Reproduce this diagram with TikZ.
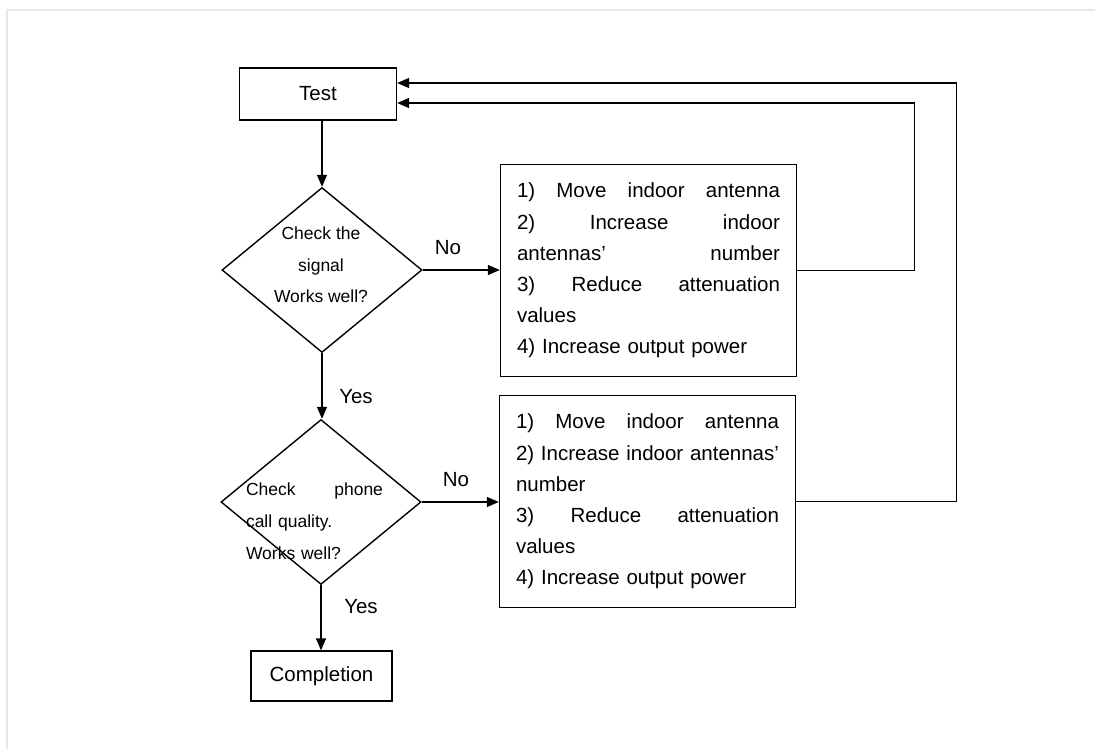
\documentclass[tikz,border=0pt]{standalone}
\usepackage{fontspec}
\setmainfont{Liberation Sans}
\usetikzlibrary{arrows.meta,shapes.geometric}
\newcommand{\fullline}[2][263pt]{\makebox[#1][s]{\spaceskip=0.28em plus 1fil\relax #2}}

\begin{document}
\begin{tikzpicture}[x=1pt,y=-1pt,
		flow/.style={line width=1.4pt, -{Triangle[length=12pt,width=10pt]}},
		stepbox/.style={draw, line width=1.4pt, inner sep=0pt, font=\fontsize{20.5}{24}\selectfont},
		decision/.style={draw, diamond, line width=1.4pt, inner sep=0pt, minimum width=200pt, minimum height=165pt},
		dtext/.style={inner sep=0pt, font=\fontsize{17.5}{31.5}\selectfont},
		actbox/.style={draw, line width=1.4pt, text width=263pt, inner xsep=16.5pt, inner ysep=0pt, minimum height=212pt, align=left, font=\fontsize{20.5}{31.2}\selectfont},
		answer/.style={inner sep=0pt, font=\fontsize{20.5}{24}\selectfont}]
	\useasboundingbox (0,0) rectangle (1095,749);
	\draw[black!9, line width=2pt] (7,749) -- (7,10) -- (1095,10);

	\node[stepbox, minimum width=157pt, minimum height=52pt] (test) at (318,94) {Test};
	\node[decision] (chk1) at (322,270) {};
	\node[dtext, align=center] (chk1txt) at (321,265) {Check the\\signal\\Works well?};
	\node[actbox] (act1) at (648.5,270.5) {\fullline{1) Move indoor antenna}\\
		\fullline{2) Increase indoor}\\
		\fullline{antennas' number}\\
		\fullline{3) Reduce attenuation}\\
		values\\
		4) Increase output power};

	\node[decision] (chk2) at (321,502) {};
	\node[dtext, align=left, text width=137pt, font=\fontsize{17.5}{32}\selectfont] (chk2txt) at (314.5,521) {\fullline[137pt]{Check phone}\\call quality.\\Works well?};
	\node[actbox] (act2) at (647.5,501.5) {\fullline{1) Move indoor antenna}\\
		\fullline{2) Increase indoor antennas'}\\
		number\\
		\fullline{3) Reduce attenuation}\\
		values\\
		4) Increase output power};

	\node[stepbox, minimum width=141pt, minimum height=50pt] (done) at (321.5,676) {Completion};

	\node[answer] (no1) at (448,248) {No};
	\node[answer] (yes1) at (356,397) {Yes};
	\node[answer] (no2) at (456,480) {No};
	\node[answer] (yes2) at (361,607) {Yes};

	\draw[flow] (chk1.north |- test.south) -- (chk1.north);
	\draw[flow] (chk1.east) -- (chk1.east -| act1.west);
	\draw[flow] (chk1.south) -- (chk1.south |- chk2.north);
	\draw[flow] (chk2.east) -- (chk2.east -| act2.west);
	\draw[flow] (chk2.south) -- (chk2.south |- done.north);
	\draw[flow] (act1.east) -- ++(117,0) |- ([yshift=-9pt]test.east);
	\draw[flow] (act2.east) -- ++(160,0) |- ([yshift=11pt]test.east);
\end{tikzpicture}
\end{document}
